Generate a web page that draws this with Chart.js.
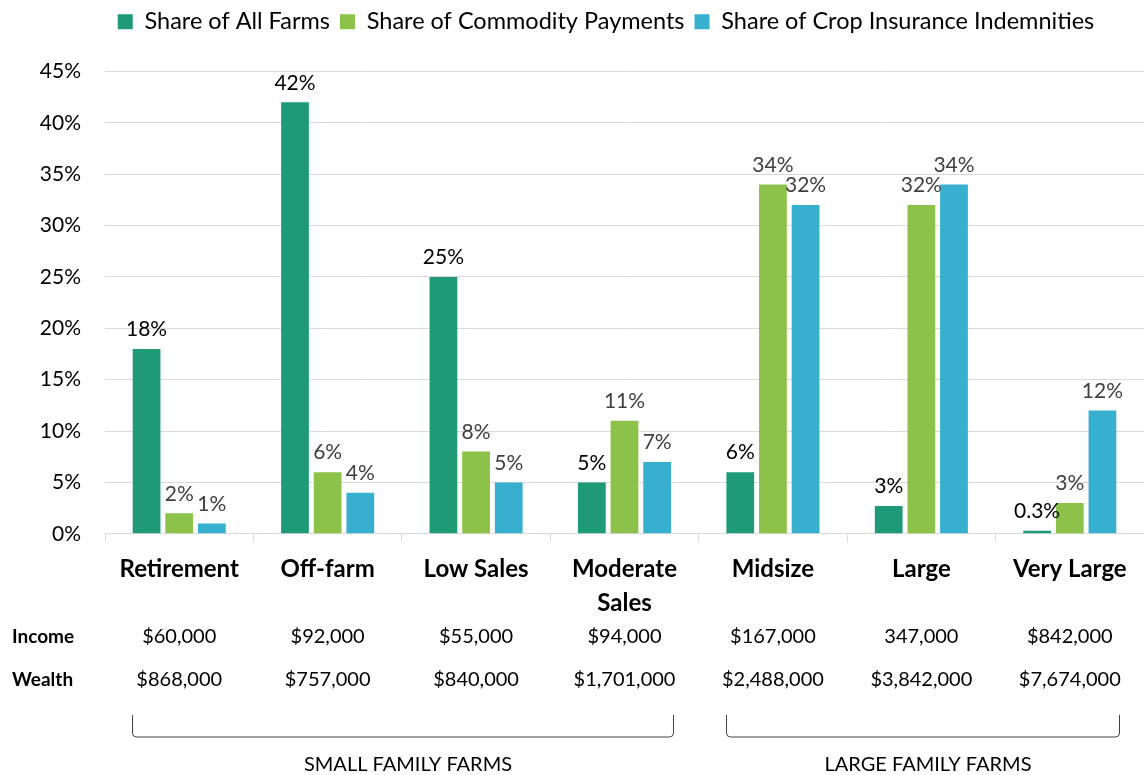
<!DOCTYPE html>
<html>
<head>
<meta charset="utf-8">
<script src="https://cdn.jsdelivr.net/npm/chart.js@4.4.1/dist/chart.umd.min.js"></script>
<style>
  body { margin: 0; background: #fff; }
  #wrap { width: 1144px; height: 775px; position: relative; }
</style>
</head>
<body>
<div id="wrap"><canvas id="grafico"></canvas></div>
<script>
// Dados do gráfico
const categorias = ['Retirement', 'Off-farm', 'Low Sales', ['Moderate', 'Sales'], 'Midsize', 'Large', 'Very Large'];
const shareAllFarms = [18, 42, 25, 5, 6, 2.7, 0.3];
const shareCommodity = [2, 6, 8, 11, 34, 32, 3];
const shareInsurance = [1, 4, 5, 7, 32, 34, 12];
const yTicks = [0, 5, 10, 15, 20, 25, 30, 35, 40, 45];
const renda = ['$60,000', '$92,000', '$55,000', '$94,000', '$167,000', '347,000', '$842,000'];
const riqueza = ['$868,000', '$757,000', '$840,000', '$1,701,000', '$2,488,000', '$3,842,000', '$7,674,000'];
const grupos = [
    { nome: 'SMALL FAMILY FARMS', de: 0, ate: 3 },
    { nome: 'LARGE FAMILY FARMS', de: 4, ate: 6 }
];

const FONTE = 'Lato, "Open Sans", sans-serif';
const CAT_PCT = 0.66;

// Espaço extra abaixo da legenda e deslocamento para a direita
const espacoLegenda = {
    id: 'espacoLegenda',
    beforeInit(chart) {
        const fit = chart.legend.fit;
        chart.legend.fit = function () {
            fit.bind(chart.legend)();
            this.height += 28;
        };
    },
    afterLayout(chart) {
        chart.legend.left += 34;
        chart.legend.right += 34;
    }
};

// Rótulos com os valores em cima das barras
const rotulosPlugin = {
    id: 'rotulos',
    afterDatasetsDraw(chart) {
        const ctx = chart.ctx;
        ctx.save();
        ctx.font = '21px ' + FONTE;
        ctx.textAlign = 'center';
        ctx.textBaseline = 'bottom';
        chart.data.datasets.forEach((ds, i) => {
            const meta = chart.getDatasetMeta(i);
            ctx.fillStyle = i === 0 ? '#000000' : '#404040';
            meta.data.forEach((bar, j) => {
                const v = ds.data[j];
                const txt = (v < 1 ? v.toFixed(1) : Math.round(v)) + '%';
                ctx.fillText(txt, bar.x, bar.y - 9);
            });
        });
        ctx.restore();
    }
};

// Linhas de renda e riqueza, chaves e nomes dos grupos
const tabelaPlugin = {
    id: 'tabela',
    afterDraw(chart) {
        const ctx = chart.ctx;
        const x = chart.scales.x;
        const largura = (x.getPixelForValue(1) - x.getPixelForValue(0)) * CAT_PCT;
        ctx.save();
        ctx.fillStyle = '#000';
        ctx.textBaseline = 'middle';

        ctx.font = 'bold 19px ' + FONTE;
        ctx.textAlign = 'left';
        ctx.fillText('Income', 12, 637);
        ctx.fillText('Wealth', 12, 680);

        ctx.font = '20px ' + FONTE;
        ctx.textAlign = 'center';
        renda.forEach((t, i) => ctx.fillText(t, x.getPixelForValue(i), 637));
        riqueza.forEach((t, i) => ctx.fillText(t, x.getPixelForValue(i), 680));

        ctx.strokeStyle = '#404040';
        ctx.lineWidth = 1;
        grupos.forEach(g => {
            const x1 = Math.round(x.getPixelForValue(g.de) - largura / 2) + 2.5;
            const x2 = Math.round(x.getPixelForValue(g.ate) + largura / 2) + 0.5;
            ctx.beginPath();
            ctx.moveTo(x1, 715);
            ctx.lineTo(x1, 733);
            ctx.quadraticCurveTo(x1, 737, x1 + 4, 737);
            ctx.lineTo(x2 - 4, 737);
            ctx.quadraticCurveTo(x2, 737, x2, 733);
            ctx.lineTo(x2, 715);
            ctx.stroke();
            ctx.font = '20px ' + FONTE;
            ctx.fillText(g.nome, (x1 + x2) / 2 + 5, 765);
        });
        ctx.restore();
    }
};

function criarGrafico() {
    const ctx = document.getElementById('grafico').getContext('2d');
    new Chart(ctx, {
        type: 'bar',
        data: {
            labels: categorias,
            datasets: [
                { label: 'Share of All Farms', data: shareAllFarms, backgroundColor: '#1f9a77' },
                { label: 'Share of Commodity Payments', data: shareCommodity, backgroundColor: '#8cc24a' },
                { label: 'Share of Crop Insurance Indemnities', data: shareInsurance, backgroundColor: '#37afcf' }
            ]
        },
        options: {
            responsive: true,
            maintainAspectRatio: false,
            animation: false,
            categoryPercentage: CAT_PCT,
            barPercentage: 0.85,
            layout: { padding: { top: 0, right: 0, bottom: 144, left: 0 } },
            plugins: {
                tooltip: { enabled: false },
                legend: {
                    position: 'top',
                    labels: {
                        font: { size: 23.5, family: FONTE },
                        color: '#000',
                        boxWidth: 15,
                        boxHeight: 15,
                        padding: 10
                    }
                }
            },
            scales: {
                x: {
                    grid: {
                        display: true,
                        drawOnChartArea: false,
                        drawTicks: true,
                        tickLength: 8,
                        color: '#d9d9d9'
                    },
                    border: { color: '#d9d9d9' },
                    ticks: {
                        font: { size: 24, weight: 'bold', family: FONTE, lineHeight: 1.4 },
                        color: '#000',
                        maxRotation: 0,
                        autoSkip: false,
                        padding: 11
                    }
                },
                y: {
                    min: 0,
                    max: 45,
                    afterFit(s) { s.width = 105; },
                    afterBuildTicks(s) { s.ticks = yTicks.map(v => ({ value: v })); },
                    grid: { color: '#d9d9d9', drawTicks: false },
                    border: { display: false },
                    ticks: {
                        font: { size: 21, family: FONTE },
                        color: '#000',
                        padding: 24,
                        callback: v => v + '%'
                    }
                }
            }
        },
        plugins: [espacoLegenda, rotulosPlugin, tabelaPlugin]
    });
}

document.addEventListener('DOMContentLoaded', criarGrafico);
</script>
</body>
</html>
